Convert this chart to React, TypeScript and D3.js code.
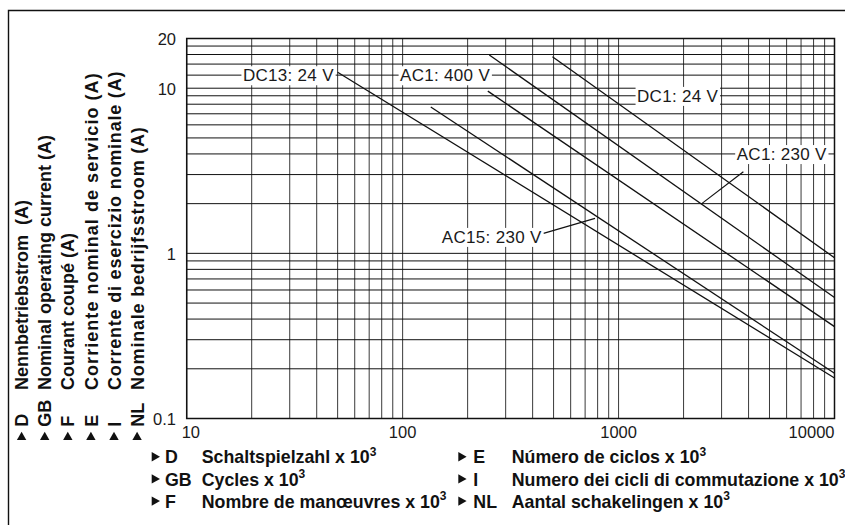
import React, { useRef, useEffect } from 'react';
import * as d3 from 'd3';

const W = 845;
const H = 525;

// switching cycles x 10^3 / rated operational current (A)
const xTickValues = [10, 100, 1000, 10000];
const yTickValues = [0.1, 1, 10, 20];
const yGridExtra = [12, 14, 16, 18];

// curves, read as end points on the log-log grid
const dc1_24 = [[494, 15.5], [10000, 0.94]];
const ac1_230 = [[252, 15.9], [10000, 0.54]];
const ac1_400 = [[248, 9.6], [10000, 0.36]];
const ac15_230 = [[135, 7.7], [10000, 0.188]];
const dc13_24 = [[50, 12.5], [10000, 0.176]];
const curves = [dc1_24, ac1_230, ac1_400, ac15_230, dc13_24];

const curveLabels = ['DC13: 24 V', 'AC1: 400 V', 'DC1: 24 V', 'AC1: 230 V', 'AC15: 230 V'];
const curveLabelAt = [[48, 12], [254, 12], [1218, 9], [3524, 4], [440, 1.26]];
const curveLabelAnchor = ['end', 'end', 'start', 'start', 'end'];

const leaderAc1_230 = [[3784, 3.12], [2427, 2.0]];
const leaderAc15_230 = [[449, 1.32], [778, 1.63]];

const langCodes = ['D', 'GB', 'F', 'E', 'I', 'NL'];
const yTitles = [
  'Nennbetriebstrom  (A)',
  'Nominal operating current (A)',
  'Courant coupé (A)',
  'Corriente nominal de servicio (A)',
  'Corrente di esercizio nominale (A)',
  'Nominale bedrijfsstroom (A)',
];
const xTitles = [
  'Schaltspielzahl x 10',
  'Cycles x 10',
  'Nombre de manœuvres x 10',
  'Número de ciclos x 10',
  'Numero dei cicli di commutazione x 10',
  'Aantal schakelingen x 10',
];
// the last three rotated titles are set a little looser in the original
const yTitleTracking = [0, 0, 0, 1.05, 0.8, 0.8];

const FONT = '"Liberation Sans", Arial, Helvetica, sans-serif';

const App: React.FC = () => {
  const svgRef = useRef<SVGSVGElement>(null);

  useEffect(() => {
    if (!svgRef.current) return;
    const svg = d3.select(svgRef.current);
    svg.selectAll('*').remove();

    const left = 186.7, right = 834.5, top = 38.5, bottom = 418.5;
    const x = d3.scaleLog().domain([10, 10000]).range([left, right]);
    const y = d3.scaleLog().domain([0.1, 20]).range([bottom, top]);

    svg.append('rect').attr('width', W).attr('height', H).attr('fill', '#fff');

    // outer frame (only top and left are inside the picture)
    svg.append('path')
      .attr('d', `M8.5,${H + 2}V10.5H${W + 2}`)
      .attr('fill', 'none')
      .attr('stroke', '#111')
      .attr('stroke-width', 1.4);

    // grid
    const g = svg.append('g');
    g.selectAll('.vgrid')
      .data(x.ticks())
      .enter()
      .append('line')
      .attr('x1', d => x(d)).attr('x2', d => x(d))
      .attr('y1', top).attr('y2', bottom)
      .attr('stroke', '#3a3a3a')
      .attr('stroke-width', 1);

    const yGrid = y.ticks().concat(yGridExtra);
    g.selectAll('.hgrid')
      .data(yGrid)
      .enter()
      .append('line')
      .attr('x1', left).attr('x2', right)
      .attr('y1', d => y(d)).attr('y2', d => y(d))
      .attr('stroke', '#111')
      .attr('stroke-width', 1);

    g.append('rect')
      .attr('x', left).attr('y', top)
      .attr('width', right - left).attr('height', bottom - top)
      .attr('fill', 'none')
      .attr('stroke', '#111')
      .attr('stroke-width', 1.5);

    // curves
    const line = d3.line<number[]>().x(d => x(d[0])).y(d => y(d[1]));
    curves.forEach(c => {
      g.append('path')
        .attr('d', line(c))
        .attr('fill', 'none')
        .attr('stroke', '#111')
        .attr('stroke-width', 1.3);
    });

    [leaderAc1_230, leaderAc15_230].forEach(l => {
      g.append('path')
        .attr('d', line(l))
        .attr('fill', 'none')
        .attr('stroke', '#111')
        .attr('stroke-width', 1.2);
    });

    // curve labels on white boxes
    curveLabels.forEach((name, i) => {
      const lg = g.append('g');
      const t = lg.append('text')
        .attr('x', x(curveLabelAt[i][0]))
        .attr('y', y(curveLabelAt[i][1]))
        .attr('dy', '0.36em')
        .attr('text-anchor', curveLabelAnchor[i])
        .attr('font-family', FONT)
        .attr('font-size', 17)
        .attr('letter-spacing', 0.3)
        .attr('fill', '#1a1a1a')
        .text(name);
      const bb = (t.node() as SVGTextElement).getBBox();
      lg.insert('rect', 'text')
        .attr('x', bb.x - 1.5)
        .attr('y', bb.y)
        .attr('width', bb.width + 3)
        .attr('height', bb.height)
        .attr('fill', '#fff');
    });

    // tick labels
    svg.selectAll('.ytick')
      .data(yTickValues)
      .enter()
      .append('text')
      .attr('x', 176)
      .attr('y', d => y(d))
      .attr('dy', '0.4em')
      .attr('text-anchor', 'end')
      .attr('font-family', FONT)
      .attr('font-size', 16.5)
      .attr('fill', '#1a1a1a')
      .text(d => String(d));

    svg.selectAll('.xtick')
      .data(xTickValues)
      .enter()
      .append('text')
      .attr('x', (d, i) => (i === 0 ? x(d) - 5 : x(d)))
      .attr('y', 438)
      .attr('text-anchor', (d, i) => (i === 0 ? 'start' : i === xTickValues.length - 1 ? 'end' : 'middle'))
      .attr('font-family', FONT)
      .attr('font-size', 16.5)
      .attr('fill', '#1a1a1a')
      .text(d => String(d));

    // titles: triangle + language code + text
    const entry = (parent: any, code: string, text: string, codeX: number, textX: number, sup: boolean, size: number, track: number) => {
      parent.append('path')
        .attr('d', 'M0,-11.3L8.3,-6.6L0,-1.9Z')
        .attr('fill', '#111');
      const common = (s: any) => s
        .attr('font-family', FONT)
        .attr('font-weight', 'bold')
        .attr('font-size', size)
        .attr('fill', '#111')
        .style('white-space', 'pre');
      common(parent.append('text').attr('x', codeX).attr('y', 0)).text(code);
      const t = common(parent.append('text').attr('x', textX).attr('y', 0)).attr('letter-spacing', track);
      t.append('tspan').text(text);
      if (sup) t.append('tspan').attr('font-size', 12).attr('dy', -7.5).text('3');
    };

    yTitles.forEach((txt, i) => {
      const cg = svg.append('g')
        .attr('transform', `translate(${28.2 + i * 23.1},440) rotate(-90)`);
      entry(cg, langCodes[i], txt, 13.3, 50, false, 18, yTitleTracking[i]);
    });

    xTitles.forEach((txt, i) => {
      const col = Math.floor(i / 3);
      const row = i % 3;
      const cg = svg.append('g')
        .attr('transform', `translate(${col === 0 ? 151.7 : 458.3},${463.3 + row * 22.2})`);
      entry(cg, langCodes[i], txt, col === 0 ? 13.3 : 15, col === 0 ? 50 : 53.4, true, 17.8, 0);
    });
  }, []);

  return (
    <div style={{ position: 'absolute', left: 0, top: 0 }}>
      <svg ref={svgRef} width={W} height={H} viewBox={`0 0 ${W} ${H}`} style={{ display: 'block' }} />
    </div>
  );
};

export default App;
